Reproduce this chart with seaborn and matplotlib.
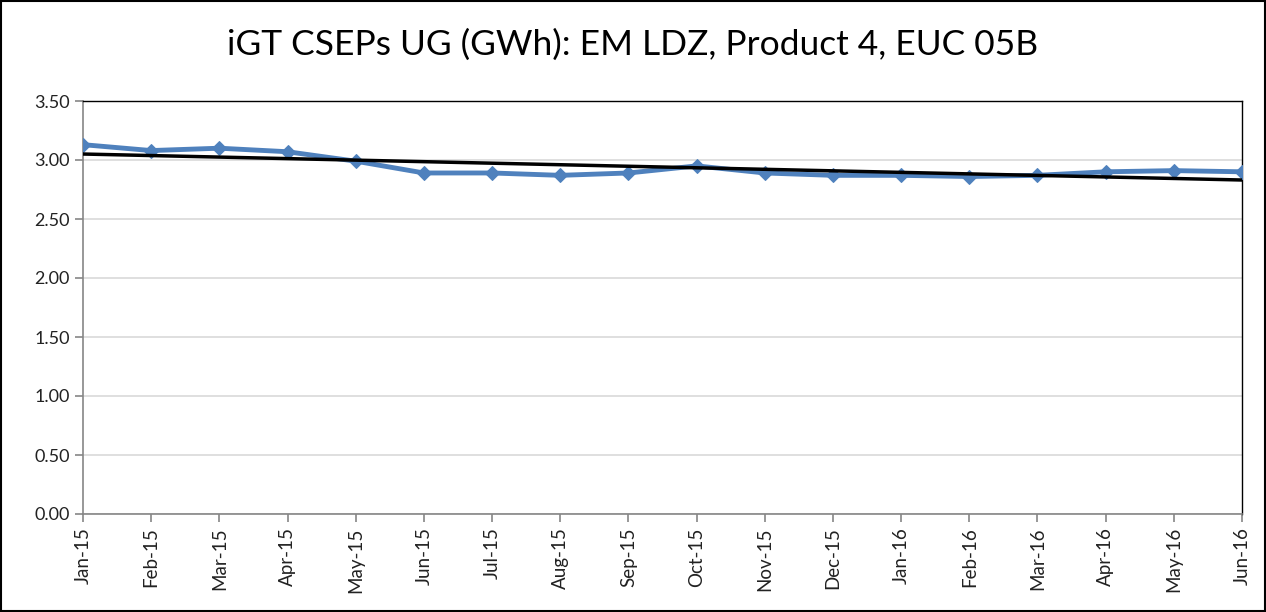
import matplotlib
matplotlib.use('Agg')

import numpy as np
import pandas as pd
import matplotlib.pyplot as plt
import seaborn as sns

# --------------------------------------------------
# Data
# --------------------------------------------------
months = ['Jan-15', 'Feb-15', 'Mar-15', 'Apr-15', 'May-15', 'Jun-15',
          'Jul-15', 'Aug-15', 'Sep-15', 'Oct-15', 'Nov-15', 'Dec-15',
          'Jan-16', 'Feb-16', 'Mar-16', 'Apr-16', 'May-16', 'Jun-16']
values = [3.13, 3.08, 3.10, 3.07, 2.99, 2.89,
          2.89, 2.87, 2.89, 2.95, 2.89, 2.87,
          2.87, 2.86, 2.87, 2.90, 2.91, 2.90]
y_ticks = [0.0, 0.5, 1.0, 1.5, 2.0, 2.5, 3.0, 3.5]

data = pd.DataFrame({'pos': np.arange(len(months)), 'value': values})

# linear trendline (like Excel's)
slope, intercept = np.polyfit(data['pos'], data['value'], 1)
data['trend'] = intercept + slope * data['pos']

# --------------------------------------------------
# Plot
# --------------------------------------------------
sns.set_style('white')
plt.rcParams['font.family'] = ['Lato', 'DejaVu Sans']

fig = plt.figure(figsize=(12.66, 6.12), dpi=100)
ax = fig.add_axes([83 / 1266, 1 - 514 / 612, (1242 - 83) / 1266, (514 - 101) / 612])

sns.lineplot(data=data, x='pos', y='value', color='#4F81BD', linewidth=3.5,
             marker='D', markersize=7, markeredgecolor='#4F81BD', ax=ax, zorder=3)
sns.lineplot(data=data, x='pos', y='trend', color='black', linewidth=2.5,
             ax=ax, zorder=4)

ax.set_xlim(0, len(months) - 1)
ax.set_ylim(0, 3.5)
ax.set_xticks(data['pos'])
ax.set_xticklabels(months, rotation=90, fontsize=13.5)
ax.set_yticks(y_ticks)
ax.set_yticklabels([f'{v:.2f}' for v in y_ticks], fontsize=13)
ax.set_xlabel('')
ax.set_ylabel('')

ax.grid(axis='y', color='#d9d9d9', linewidth=1.2)
ax.set_axisbelow(True)
for side in ['left', 'bottom']:
    ax.spines[side].set_color('#868686')
    ax.spines[side].set_linewidth(1.2)
for side in ['top', 'right']:
    ax.spines[side].set_color('black')
    ax.spines[side].set_linewidth(1.0)
ax.tick_params(axis='both', direction='out', length=6, color='#868686',
               width=1.2, labelcolor='#222222', bottom=True, left=True)

fig.suptitle('iGT CSEPs UG (GWh): EM LDZ, Product 4, EUC 05B',
             fontsize=25.5, y=1 - 45 / 612, va='center', color='black')

# outer chart border
fig.patches.append(plt.Rectangle((0.001, 0.001), 0.998, 0.998,
                                 transform=fig.transFigure, fill=False,
                                 edgecolor='black', linewidth=1.5))

fig.savefig('out.png', dpi=100)
plt.close(fig)
